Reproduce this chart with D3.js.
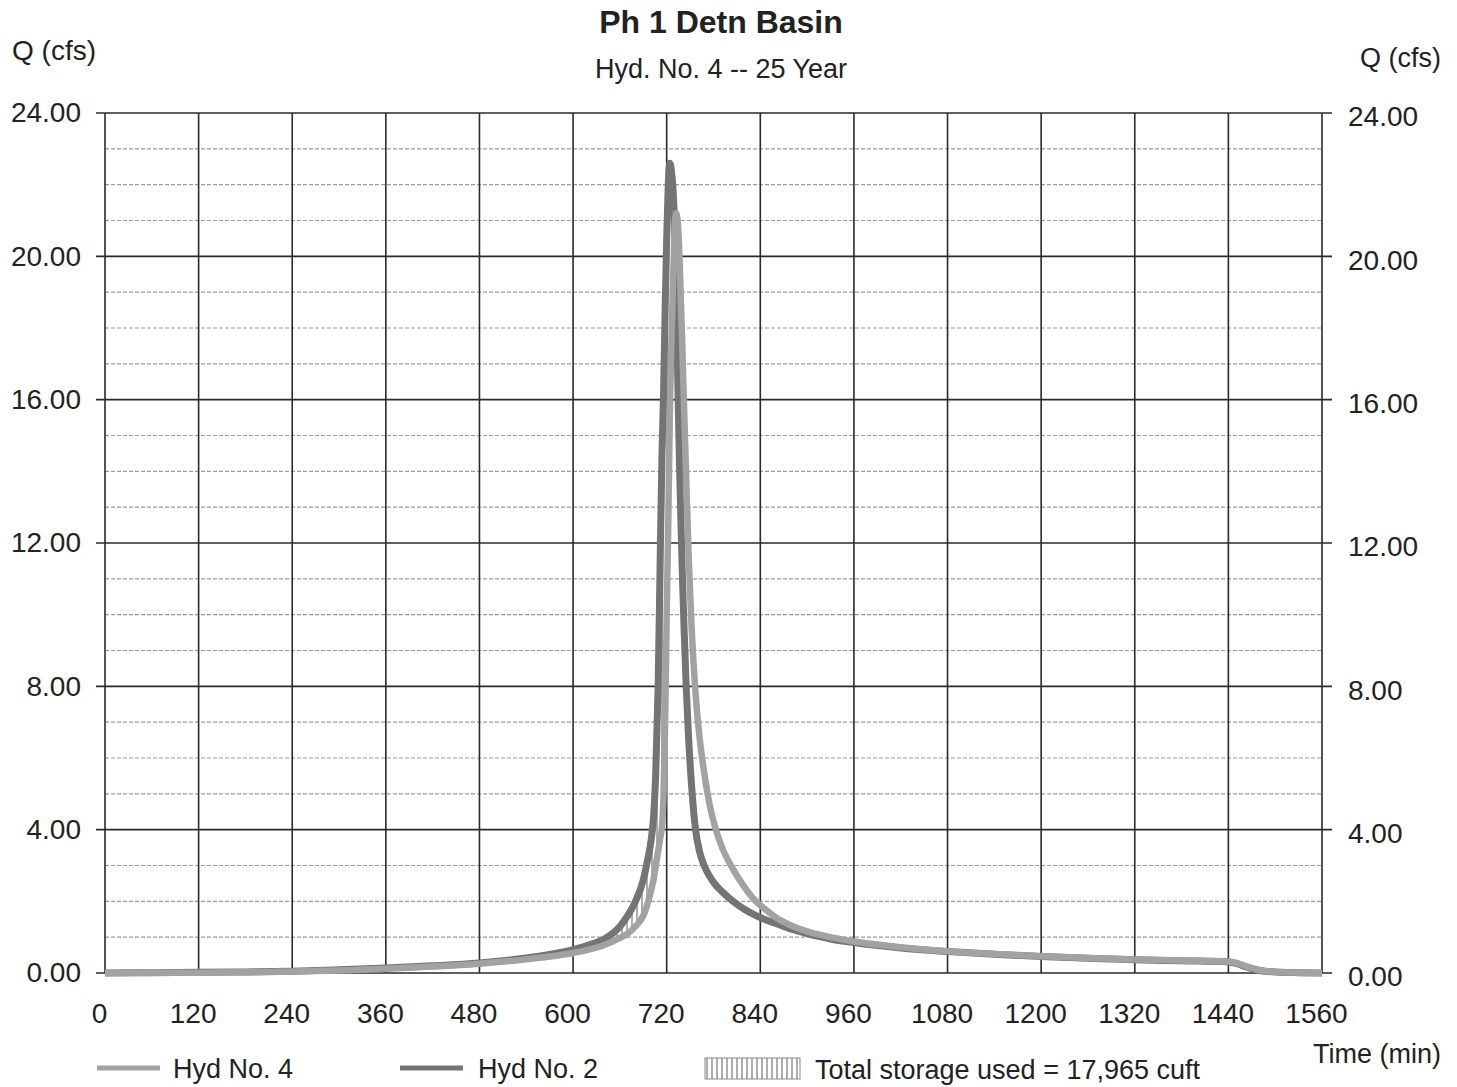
<!DOCTYPE html>
<html>
<head>
<meta charset="utf-8">
<script src="https://cdn.jsdelivr.net/npm/d3@7"></script>
<style>
  body { margin: 0; background: #fff; }
  svg text { font-family: "Liberation Sans", Arial, sans-serif; fill: #222; }
</style>
</head>
<body>
<svg id="chart" width="1457" height="1087"></svg>
<script>
// hydrograph values (min, cfs)
var timeMin = [0,60,120,180,240,300,360,420,480,540,570,600,620,640,660,670,680,690,695,700,703,706,709,712,714,716,718,720,722,724,726,728,730,732,734,736,738,740,742,745,748,752,757,762,768,775,783,792,805,818,830,845,860,880,900,930,960,1020,1080,1140,1200,1260,1320,1380,1440,1450,1460,1470,1480,1500,1530,1560];
var hyd2Q = [0,0.01,0.02,0.03,0.05,0.09,0.14,0.2,0.28,0.42,0.52,0.65,0.78,0.95,1.3,1.6,2.0,2.6,3.1,3.7,4.3,5.6,8.0,12.0,14.5,16.2,18.5,20.5,22.0,22.6,22.4,21.9,21.0,19.2,16.8,14.6,12.8,11.2,9.8,8.0,6.6,5.2,4.0,3.4,3.0,2.7,2.45,2.25,2.0,1.8,1.65,1.5,1.38,1.22,1.1,0.95,0.85,0.7,0.6,0.52,0.46,0.41,0.37,0.34,0.31,0.27,0.19,0.12,0.07,0.03,0.01,0];
var hyd4Q = [0,0.005,0.01,0.02,0.04,0.07,0.12,0.18,0.26,0.38,0.46,0.56,0.65,0.78,0.98,1.1,1.3,1.6,1.9,2.3,2.6,3.0,3.4,3.8,4.1,5.0,7.0,10.0,12.5,15.6,17.6,19.2,20.6,21.2,21.0,20.2,18.9,17.5,16.0,13.8,11.7,9.6,7.8,6.6,5.6,4.7,4.0,3.45,2.9,2.45,2.1,1.8,1.55,1.32,1.16,1.0,0.88,0.72,0.61,0.53,0.47,0.42,0.38,0.35,0.32,0.28,0.21,0.14,0.08,0.035,0.01,0];
var xTicks = [0,120,240,360,480,600,720,840,960,1080,1200,1320,1440,1560];
var yTicks = [0,4,8,12,16,20,24];
var yMinor = [1,2,3,5,6,7,9,10,11,13,14,15,17,18,19,21,22,23];
var storageEnd = 731;

var svg = d3.select('#chart');
var plotL = 105, plotR = 1322, plotT = 113, plotB = 973;
var FS = 28;

var x = d3.scaleLinear().domain([0,1560]).range([plotL,plotR]);
var y = d3.scaleLinear().domain([0,24]).range([plotB,plotT]);

var rows = timeMin.map(function(t,i){ return {t:t, q2:hyd2Q[i], q4:hyd4Q[i]}; });

// hatch pattern for storage
var defs = svg.append('defs');
var pat = defs.append('pattern').attr('id','hatch').attr('patternUnits','userSpaceOnUse')
  .attr('width',5).attr('height',10);
pat.append('rect').attr('width',5).attr('height',10).attr('fill','#fff');
pat.append('line').attr('x1',2).attr('x2',2).attr('y1',0).attr('y2',10)
  .attr('stroke','#9a9a9a').attr('stroke-width',1.6);

// minor grid
svg.append('g').selectAll('line').data(yMinor).enter().append('line')
  .attr('x1',plotL).attr('x2',plotR)
  .attr('y1',function(d){return y(d);}).attr('y2',function(d){return y(d);})
  .attr('stroke','#9c9c9c').attr('stroke-width',1.2).attr('stroke-dasharray','4,2');

// vertical grid
svg.append('g').selectAll('line').data(xTicks).enter().append('line')
  .attr('x1',function(d){return x(d);}).attr('x2',function(d){return x(d);})
  .attr('y1',plotT).attr('y2',plotB)
  .attr('stroke','#2a2a2a').attr('stroke-width',1.6);

// major horizontal grid, extending past the frame like ticks
svg.append('g').selectAll('line').data(yTicks).enter().append('line')
  .attr('x1',plotL-9).attr('x2',plotR+10)
  .attr('y1',function(d){return y(d);}).attr('y2',function(d){return y(d);})
  .attr('stroke','#2a2a2a').attr('stroke-width',1.6);

// storage area between inflow and outflow
var storageRows = rows.filter(function(d){ return d.t >= 420 && d.t <= storageEnd; });
svg.append('path').datum(storageRows)
  .attr('d', d3.area().x(function(d){return x(d.t);})
    .y0(function(d){return y(Math.min(d.q4,d.q2));})
    .y1(function(d){return y(d.q2);}).curve(d3.curveMonotoneX))
  .attr('fill','url(#hatch)');

var line2 = d3.line().x(function(d){return x(d.t);}).y(function(d){return y(d.q2);}).curve(d3.curveMonotoneX);
var line4 = d3.line().x(function(d){return x(d.t);}).y(function(d){return y(d.q4);}).curve(d3.curveMonotoneX);

svg.append('path').datum(rows).attr('d',line2).attr('fill','none')
  .attr('stroke','#747474').attr('stroke-width',7).attr('stroke-linejoin','round');
svg.append('path').datum(rows).attr('d',line4).attr('fill','none')
  .attr('stroke','#a2a2a2').attr('stroke-width',6.5).attr('stroke-linejoin','round');

// axes (labels only, lines drawn above)
var fmt = d3.format('.2f');
var axL = svg.append('g').attr('transform','translate('+(plotL-24)+',0)')
  .call(d3.axisLeft(y).tickValues(yTicks).tickFormat(fmt).tickSize(0));
var axR = svg.append('g').attr('transform','translate('+(plotR+26)+',4)')
  .call(d3.axisRight(y).tickValues(yTicks).tickFormat(fmt).tickSize(0));
var axB = svg.append('g').attr('transform','translate(-6,'+(plotB+27)+')')
  .call(d3.axisBottom(x).tickValues(xTicks).tickFormat(d3.format('d')).tickSize(0));
[axL,axR,axB].forEach(function(a){
  a.select('.domain').remove();
  a.selectAll('text').attr('font-size',FS).attr('fill','#222')
    .style('font-family','"Liberation Sans", Arial, sans-serif');
});
axL.selectAll('text').attr('x',0);
axR.selectAll('text').attr('x',0);

// titles
svg.append('text').attr('x',721).attr('y',33).attr('text-anchor','middle')
  .attr('font-size',32).attr('font-weight','bold').text('Ph 1 Detn Basin');
svg.append('text').attr('x',721).attr('y',78).attr('text-anchor','middle')
  .attr('font-size',FS-1).text('Hyd. No. 4 -- 25 Year');
svg.append('text').attr('x',12).attr('y',60).attr('font-size',FS).text('Q (cfs)');
svg.append('text').attr('x',1441).attr('y',67).attr('text-anchor','end')
  .attr('font-size',FS-1).text('Q (cfs)');
svg.append('text').attr('x',1441).attr('y',1063).attr('text-anchor','end')
  .attr('font-size',FS-1).text('Time (min)');

// legend
var lg = svg.append('g');
lg.append('line').attr('x1',97).attr('x2',160).attr('y1',1068).attr('y2',1068)
  .attr('stroke','#a2a2a2').attr('stroke-width',5);
lg.append('text').attr('x',173).attr('y',1078).attr('font-size',FS-1).text('Hyd No. 4');
lg.append('line').attr('x1',400).attr('x2',463).attr('y1',1068).attr('y2',1068)
  .attr('stroke','#747474').attr('stroke-width',5);
lg.append('text').attr('x',478).attr('y',1078).attr('font-size',FS-1).text('Hyd No. 2');
lg.append('rect').attr('x',705).attr('y',1058).attr('width',95).attr('height',21)
  .attr('fill','url(#hatch)').attr('stroke','#8a8a8a').attr('stroke-width',1);
lg.append('text').attr('x',815).attr('y',1079).attr('font-size',FS-1)
  .text('Total storage used = 17,965 cuft');
</script>
</body>
</html>
